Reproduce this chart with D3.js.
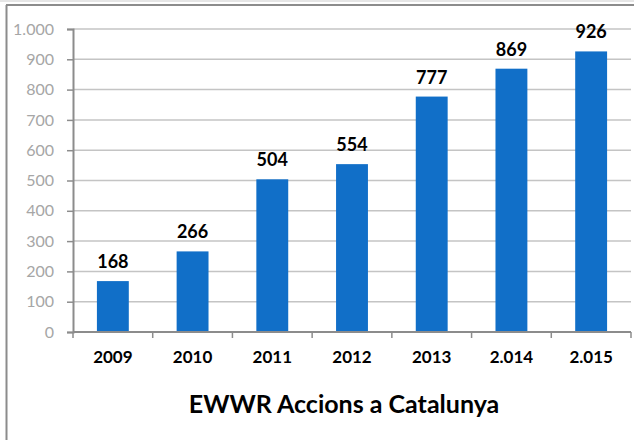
<!DOCTYPE html>
<html lang="ca">
<head>
<meta charset="utf-8">
<script src="https://d3js.org/d3.v7.min.js"></script>
<style>
  body { margin: 0; background: #fff; }
  text { font-family: Lato, "Open Sans", sans-serif; }
</style>
</head>
<body>
<div id="chart"></div>
<script>
// data
const years = ["2009", "2010", "2011", "2012", "2013", "2.014", "2.015"];
const actions = [168, 266, 504, 554, 777, 869, 926];
const yTicks = [0, 100, 200, 300, 400, 500, 600, 700, 800, 900, 1000];

const W = 634, H = 440;
const margin = { top: 29, right: 3, bottom: 108, left: 73 };
const width = W - margin.left - margin.right,
      height = H - margin.top - margin.bottom;

const svg = d3.select("#chart").append("svg")
    .attr("width", W)
    .attr("height", H);

// outer frame (light band on top, grey lines top and left)
svg.append("rect").attr("x", 0).attr("y", 0).attr("width", W).attr("height", 2).attr("fill", "#e6e6e6");
svg.append("line").attr("x1", 6).attr("x2", W).attr("y1", 5).attr("y2", 5)
    .attr("stroke", "#8c8c8c").attr("stroke-width", 2);
svg.append("line").attr("x1", 6.5).attr("x2", 6.5).attr("y1", 5).attr("y2", H)
    .attr("stroke", "#8c8c8c").attr("stroke-width", 2);

const g = svg.append("g").attr("transform", `translate(${margin.left},${margin.top})`);

const x = d3.scaleBand().domain(years).range([0, width]).paddingInner(0.6).paddingOuter(0.3);
const y = d3.scaleLinear().domain([0, 1000]).range([height, 0]);

// horizontal grid
g.append("g")
  .selectAll("line")
  .data(yTicks.filter(d => d > 0))
  .join("line")
    .attr("x1", 0).attr("x2", width)
    .attr("y1", d => y(d)).attr("y2", d => y(d))
    .attr("stroke", "#c4c4c4").attr("stroke-width", 1.5);

// y axis
const yAxis = g.append("g")
    .call(d3.axisLeft(y).tickValues(yTicks).tickSize(6).tickPadding(13)
      .tickFormat(d => d === 1000 ? "1.000" : d));
yAxis.select(".domain").attr("stroke", "#8c8c8c").attr("stroke-width", 2);
yAxis.selectAll(".tick line").attr("stroke", "#8c8c8c").attr("stroke-width", 1.5);
yAxis.selectAll(".tick text").attr("fill", "#a6a6a6").style("font-size", "16px")
    .style("font-family", "Lato, sans-serif");

// bars
g.selectAll(".bar")
  .data(actions)
  .join("rect")
    .attr("class", "bar")
    .attr("x", (d, i) => x(years[i]))
    .attr("y", d => y(d))
    .attr("width", x.bandwidth())
    .attr("height", d => height - y(d))
    .attr("fill", "#116fc8");

// value labels
g.selectAll(".val")
  .data(actions)
  .join("text")
    .attr("class", "val")
    .attr("x", (d, i) => x(years[i]) + x.bandwidth() / 2)
    .attr("y", d => y(d) - 13)
    .attr("text-anchor", "middle")
    .style("font-size", "18px")
    .style("font-weight", "bold")
    .attr("fill", "#000")
    .text(d => d);

// x axis with ticks between categories
const step = x.step();
const xAxis = g.append("g").attr("transform", `translate(0,${height})`);
xAxis.append("line").attr("x1", 0).attr("x2", width).attr("y1", 0).attr("y2", 0)
    .attr("stroke", "#8c8c8c").attr("stroke-width", 2);
xAxis.selectAll(".xt")
  .data(d3.range(years.length + 1))
  .join("line")
    .attr("class", "xt")
    .attr("x1", i => i * step).attr("x2", i => i * step)
    .attr("y1", 0).attr("y2", 6)
    .attr("stroke", "#8c8c8c").attr("stroke-width", 1.5);
xAxis.selectAll(".xl")
  .data(years)
  .join("text")
    .attr("class", "xl")
    .attr("x", d => x(d) + x.bandwidth() / 2)
    .attr("y", 31)
    .attr("text-anchor", "middle")
    .style("font-size", "17px")
    .style("font-weight", "bold")
    .attr("fill", "#000")
    .text(d => d);

// title
svg.append("text")
    .attr("x", 344)
    .attr("y", 413)
    .attr("text-anchor", "middle")
    .style("font-size", "25px")
    .style("font-weight", "bold")
    .attr("fill", "#000")
    .text("EWWR Accions a Catalunya");
</script>
</body>
</html>
